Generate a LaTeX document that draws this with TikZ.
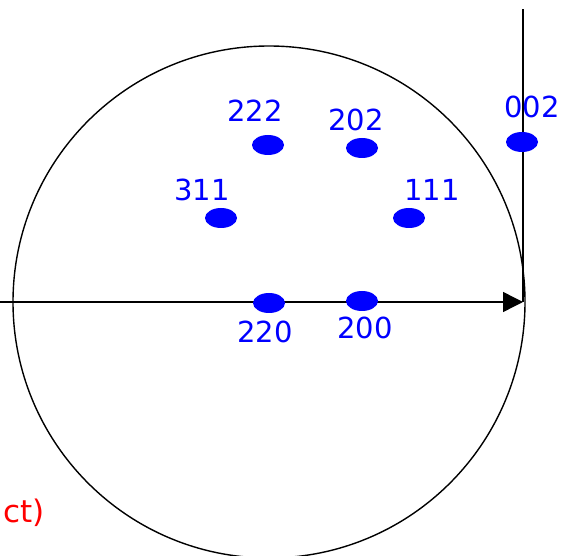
\documentclass[tikz,border=0pt]{standalone}
\usepackage{fontspec}
\setmainfont{DejaVu Sans}
\usetikzlibrary{arrows.meta, shapes.geometric}
\definecolor{SBlue}{RGB}{0,0,255}
\definecolor{SRed}{RGB}{255,0,0}
\tikzset{
  spot/.style={ellipse, fill=SBlue, minimum width=32pt, minimum height=20pt, inner sep=0pt},
  hkl/.style={text=SBlue, font=\fontsize{29}{32}\selectfont, inner sep=0pt},
}

\begin{document}
\begin{tikzpicture}[x=1pt, y=-1pt, line width=1.4pt]
\useasboundingbox (0,0) rectangle (568,556);

\coordinate (center) at (269,302);
\coordinate (origin) at (0,302);
\coordinate (tip) at (523,302);
\coordinate (top) at (523,9);

% circle and axes
\draw (center) circle (256pt);
\draw[-{Triangle[length=20pt, width=20pt]}] (origin) -- (tip);
\draw (tip) -- (top);

% spots
\node[spot] (s222) at (268,145) {};
\node[spot] (s202) at (362,148) {};
\node[spot] (s311) at (221,218) {};
\node[spot] (s111) at (409,218) {};
\node[spot] (s220) at (269,303) {};
\node[spot] (s200) at (362,301) {};
\node[spot] (s002) at (522,142) {};

% indices
\node[hkl] (l222) at (255,111) {222};
\node[hkl] (l202) at (356,120) {202};
\node[hkl] (l311) at (202,190) {311};
\node[hkl] (l111) at (432,190) {111};
\node[hkl] (l220) at (265,332) {220};
\node[hkl] (l200) at (365,328) {200};
\node[hkl] (l002) at (532,107) {002};

\node[text=SRed, font=\fontsize{31}{34}\selectfont, inner sep=0pt, anchor=base east] (note) at (45,522) {ct)};
\end{tikzpicture}
\end{document}
